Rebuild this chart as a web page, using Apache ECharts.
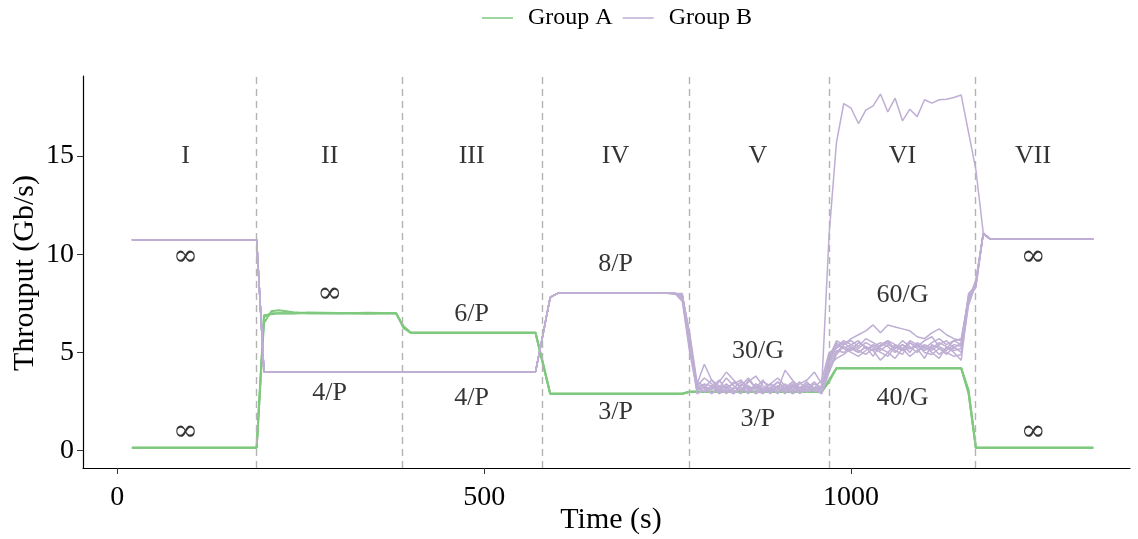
<!DOCTYPE html>
<html>
<head>
<meta charset="utf-8">
<script src="https://cdn.jsdelivr.net/npm/echarts@6/dist/echarts.min.js"></script>
<style>html,body{margin:0;padding:0;background:#fff;}#c{width:1138px;height:539px;}</style>
</head>
<body>
<div id="c"></div>
<script>
// ---- Group A (green) runs: shared sample times, values per run
const A_t = [20,190,200,210,220,240,260,300,340,380,390,400,570,580,590,770,780,960,970,980,1150,1160,1170,1330];
const A1 = [0.15,0.15,6.8,7.0,7.0,7.0,7.0,7.0,7.0,7.0,6.3,6.0,6.0,4.45,2.9,2.9,3.0,3.0,3.6,4.2,4.2,3.0,0.15,0.15];
const A2 = [0.15,0.15,6.5,7.1,7.15,7.05,7.0,6.98,7.02,7.0,6.35,6.0,6.0,4.5,2.9,2.9,3.0,3.0,3.5,4.2,4.2,3.1,0.15,0.15];
const A3 = [0.15,0.15,6.9,6.95,7.0,6.98,7.03,7.01,6.97,7.0,6.25,6.0,6.0,4.4,2.9,2.9,3.0,3.0,3.6,4.2,4.2,2.9,0.15,0.15];

// ---- Group B (purple) runs: common head, per-run middle, common tail
const B_tHead = [20,190,200,570,580,590,600,750];
const B_vHead = [10.73,10.73,4.02,4.02,5.9,7.8,8.01,8.01];
const B_tMid = [760,770,780,790,800,810,820,830,840,850,860,870,880,890,900,910,920,930,940,950,960,970,980,990,1000,1010,1020,1030,1040,1050,1060,1070,1080,1090,1100,1110,1120,1130,1140,1150,1160,1170,1180];
const B1 = [8.0,7.9,5.6, 3.3,3.0,3.2,3.6,3.1,2.9,3.3,3.7,3.2,3.0,3.1,3.5,3.2,2.9,3.1,3.4,3.2,3.3, 11.0,
  15.68,17.67,17.43,16.65,17.33,17.55,18.15,17.24,17.94,16.79,17.38,17.0,17.86,17.69,17.86,17.89,17.98,18.1, 16.2,14.3,11.1];
const B2 = [8.0,7.8,5.2, 3.4,4.4,3.6,3.1,3.3,2.9,3.4,3.1,3.2,3.6,3.0,3.3,3.1,3.4,2.9,3.2,3.5,3.1, 4.5,
  5.3,5.6,5.4,5.2,5.5,5.3,5.1,5.4,5.2,5.6,5.3,5.0,5.4,5.2,5.5,5.3,5.1,5.2, 7.8,8.5,11.05];
const B3 = [8.0,7.9,5.8, 3.2,3.3,3.1,3.5,4.0,3.6,3.2,2.9,3.4,3.1,3.2,2.9,3.4,3.1,3.0,3.3,3.1,3.0, 4.2,
  5.0,5.4,5.7,5.9,6.1,6.4,6.0,6.4,6.3,6.2,6.1,5.8,5.7,6.0,6.2,5.9,5.7,5.6, 7.6,8.6,11.05];
const B4 = [8.0,7.6,5.0, 3.1,3.2,3.6,3.3,2.9,3.2,3.5,3.3,3.1,2.9,3.2,3.1,4.1,3.6,3.2,3.1,3.4,3.2, 4.8,
  5.5,5.2,5.4,5.6,5.2,5.3,5.5,5.3,5.0,5.4,5.2,5.3,5.6,5.8,5.3,5.1,5.4,5.3, 8.0,8.4,11.05];
const B5 = [8.0,7.9,6.0, 3.5,3.3,2.9,3.2,3.7,3.3,3.1,3.2,2.9,3.5,3.3,3.2,3.0,3.1,3.4,3.6,4.0,3.4, 4.4,
  5.1,5.0,5.3,5.1,4.9,5.2,5.0,4.8,5.3,5.1,5.2,5.4,5.0,4.9,5.2,5.0,4.8,4.9, 7.4,8.5,11.05];
const B6 = [8.0,8.0,5.4, 2.9,3.1,3.3,2.9,3.1,3.5,3.2,3.0,3.4,3.2,2.9,3.3,3.1,3.2,3.5,3.0,3.1,2.9, 4.0,
  4.9,5.3,5.1,5.5,5.3,4.8,5.4,5.6,5.1,4.9,5.5,5.2,4.7,5.4,5.2,4.9,5.3,5.0, 7.7,8.7,11.05];
const B7 = [8.0,7.7,5.3, 3.3,3.7,3.4,3.1,3.0,3.2,3.1,3.5,3.8,3.3,3.1,3.0,3.2,3.5,3.1,3.3,3.0,3.2, 4.6,
  5.4,5.2,5.0,4.8,5.1,5.4,5.2,5.0,4.7,5.2,5.5,5.3,5.1,5.3,4.9,5.2,5.6,5.4, 7.9,8.4,11.05];
const B8 = [8.0,7.9,5.7, 3.2,3.0,3.2,3.1,3.4,3.1,2.9,3.6,3.2,3.1,3.4,3.7,3.3,3.0,3.2,3.1,3.2,3.6, 5.0,
  5.2,5.5,5.2,5.0,5.3,5.1,5.3,5.5,5.2,5.4,5.0,5.5,5.3,5.1,5.4,5.6,5.2,5.5, 7.5,8.5,11.05];
const B9 = [8.0,7.8,5.5, 3.4,3.2,2.9,3.3,3.2,3.0,3.1,3.3,2.9,3.1,3.4,3.2,2.9,3.3,3.1,3.0,3.2,3.1, 4.3,
  4.7,4.9,5.2,5.0,5.3,5.1,4.6,5.0,5.4,5.2,4.8,5.1,5.3,5.0,4.7,5.3,5.0,4.6, 7.7,8.6,11.05];
const B10 = [8.0,7.9,5.9, 3.1,3.4,3.3,3.0,3.2,3.4,3.6,3.1,3.3,3.0,3.2,3.5,3.1,3.3,3.2,3.5,3.1,3.3, 4.7,
  5.6,5.4,5.6,5.3,5.7,5.5,5.3,5.6,5.4,5.1,5.6,5.4,5.2,5.5,5.7,5.4,5.6,5.7, 7.8,8.3,11.05];
const B_tTail = [1190,1330];
const B_vTail = [10.76,10.76];

// ---- phase boundaries and annotations
const phaseBounds = [190,389,579,779,970,1169];
const phaseNames = ['I','II','III','IV','V','VI','VII'];
const phaseX = [93,289.5,483,679,873,1070,1248];
const phaseY = 15;
const noteText = ['4/P','6/P','4/P','8/P','3/P','30/G','3/P','60/G','40/G'];
const noteX = [289.5,483,483,679,679,873,873,1070,1070];
const noteY = [2.93,6.96,2.68,9.47,1.97,5.09,1.6,7.94,2.68];
const infX = [93,93,289.5,1248,1248];
const infY = [9.83,0.95,7.97,9.83,0.95];

// ---- tick labels
const xTicks = [0,500,1000];
const yTicks = [0,5,10,15];

const GREEN = '#7fc97f', PURPLE = '#beaed4';
const FONT = '"Liberation Serif", "DejaVu Serif", serif';

function zip(t, v){ return t.map((x,i)=>[x, v[i]]); }

const series = [];
[A1,A2,A3].forEach((v,i)=>{
  const s = {name:'Group A', type:'line', symbol:'none', showSymbol:false, data: zip(A_t, v),
    lineStyle:{color:GREEN, width:2}, itemStyle:{color:GREEN}, z:2, silent:true};
  if(i===0){
    s.markLine = {silent:true, symbol:['none','none'], label:{show:false},
      lineStyle:{color:'#b3b3b3', type:[7,5], width:1.4},
      data: phaseBounds.map(x=>({xAxis:x}))};
  }
  series.push(s);
});
[B1,B2,B3,B4,B5,B6,B7,B8,B9,B10].forEach(v=>{
  const t = B_tHead.concat(B_tMid, B_tTail);
  const y = B_vHead.concat(v, B_vTail);
  series.push({name:'Group B', type:'line', symbol:'none', showSymbol:false, data: zip(t, y),
    lineStyle:{color:PURPLE, width:1.5}, itemStyle:{color:PURPLE}, z:3, silent:true});
});
series.push({type:'scatter', symbolSize:0, silent:true, z:5,
  data: phaseNames.map((n,i)=>({value:[phaseX[i], phaseY], name:n})),
  label:{show:true, position:'inside', formatter:'{b}', color:'#000', fontFamily:FONT, fontSize:26}});
series.push({type:'scatter', symbolSize:0, silent:true, z:5,
  data: noteText.map((n,i)=>({value:[noteX[i], noteY[i]], name:n})),
  label:{show:true, position:'inside', formatter:'{b}', color:'#000', fontFamily:FONT, fontSize:26}});
series.push({type:'scatter', symbolSize:0, silent:true, z:5,
  data: infX.map((x,i)=>({value:[x, infY[i]], name:'∞'})),
  label:{show:true, position:'inside', formatter:'{b}', color:'#000', fontFamily:'"DejaVu Serif", serif', fontSize:30}});

const chart = echarts.init(document.getElementById('c'));
chart.setOption({
  animation:false,
  backgroundColor:'#fff',
  legend:{data:['Group A','Group B'], left:477, top:1, icon:'rect', itemWidth:31, itemHeight:1.5, itemGap:10,
    textStyle:{fontFamily:FONT, fontSize:24, color:'#000', padding:[0,0,0,10]}},
  grid:{left:83, right:8, top:76, bottom:71, containLabel:false, outerBoundsMode:'none'},
  graphic:[
    {type:'text', x:611, y:520, silent:true,
      style:{text:'Time (s)', align:'center', verticalAlign:'middle', fill:'#000', fontFamily:FONT, fontSize:30}},
    {type:'text', x:25, y:273, rotation:Math.PI/2, silent:true,
      style:{text:'Throuput (Gb/s)', align:'center', verticalAlign:'middle', fill:'#000', fontFamily:FONT, fontSize:30}}
  ],
  xAxis:{type:'value', min:-46.6, max:1380,
    axisLine:{show:true, onZero:false, lineStyle:{color:'#000', width:1.2}},
    axisTick:{show:true, length:6, customValues:xTicks, lineStyle:{color:'#333'}},
    axisLabel:{customValues:xTicks, margin:16, fontFamily:FONT, fontSize:28, color:'#000', formatter:v=>String(v)},
    splitLine:{show:false}},
  yAxis:{type:'value', min:-0.88, max:19.07,
    axisLine:{show:true, onZero:false, lineStyle:{color:'#000', width:1.2}},
    axisTick:{show:true, length:6, customValues:yTicks, lineStyle:{color:'#333'}},
    axisLabel:{customValues:yTicks, margin:9, fontFamily:FONT, fontSize:28, color:'#000', formatter:v=>String(v)},
    splitLine:{show:false}},
  series: series
});
</script>
</body>
</html>
